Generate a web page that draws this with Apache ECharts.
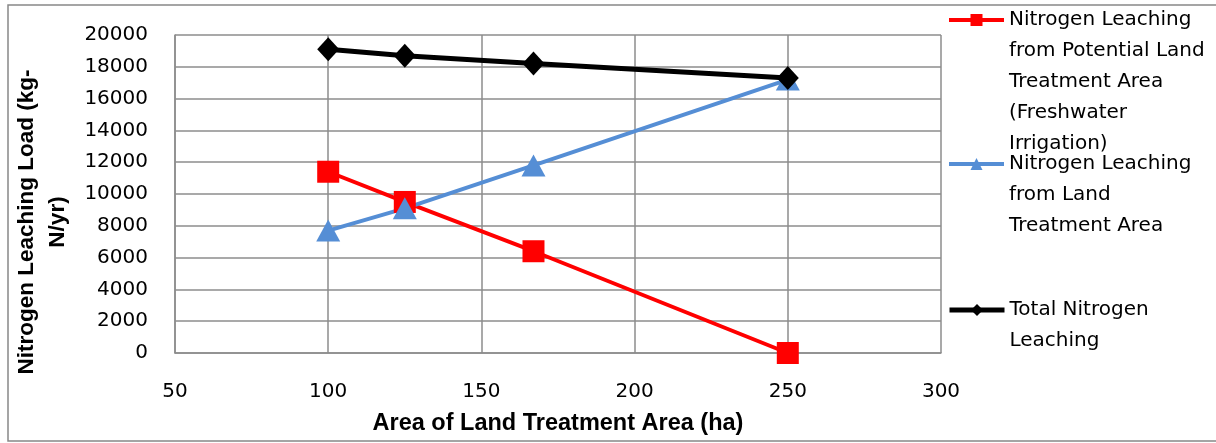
<!DOCTYPE html>
<html>
<head>
<meta charset="utf-8">
<script src="https://cdn.jsdelivr.net/npm/echarts@6/dist/echarts.min.js"></script>
<style>
  html, body { margin: 0; padding: 0; background: #fff; }
  #chart { width: 1216px; height: 443px; }
</style>
</head>
<body>
<div id="chart"></div>
<script>
// 面积 (ha)
const areaHa = [100, 125, 167, 250];
// 各系列数据
const potentialLeaching = [11400, 9500, 6400, 0];
const landLeaching = [7700, 9100, 11800, 17200];
const totalLeaching = [19100, 18700, 18200, 17300];

const seriesNames = [
  "Nitrogen Leaching from Potential Land Treatment Area (Freshwater Irrigation)",
  "Nitrogen Leaching from Land Treatment Area",
  "Total Nitrogen Leaching",
];
// 图例分行
const legendLines = [
  ["Nitrogen Leaching", "from Potential Land", "Treatment Area", "(Freshwater", "Irrigation)"],
  ["Nitrogen Leaching", "from Land", "Treatment Area"],
  ["Total Nitrogen", "Leaching"],
];
const legendFirstLineY = [20, 164, 310];

const xTicks = { min: 50, max: 300, interval: 50 };
const yTicks = { min: 0, max: 20000, interval: 2000 };

const lineH = 31;
const font = "DejaVu Sans";
const gridColor = "#8c8c8c";
const seriesColors = ["#ff0000", "#558ed5", "#000000"];
const seriesWidths = [4, 4, 5];

const toPairs = (vals) => vals.map((v, i) => [areaHa[i], v]);

// 每个图例单独放置，前面补空行让图标对齐第一行
const legends = legendLines.map((lines, i) => {
  const n = lines.length;
  const blank = new Array(n - 1).fill("");
  return {
    data: [seriesNames[i]],
    orient: "vertical",
    left: 947,
    top: legendFirstLineY[i] - (2 * n - 1) * lineH / 2,
    padding: 0,
    itemWidth: 55,
    itemHeight: 15,
    selectedMode: false,
    lineStyle: { width: seriesWidths[i] },
    formatter: () => blank.concat(lines).join("\n"),
    textStyle: {
      fontFamily: font,
      fontSize: 20,
      color: "#000",
      lineHeight: lineH,
    },
  };
});

const option = {
  animation: false,
  backgroundColor: "#fff",
  graphic: [
    {
      type: "rect",
      shape: { x: 8, y: 5, width: 1220, height: 436 },
      style: { fill: "none", stroke: "#888", lineWidth: 1.5 },
      silent: true,
    },
  ],
  legend: legends,
  grid: { left: 175, right: 275, top: 35, bottom: 90 },
  xAxis: {
    type: "value",
    min: xTicks.min,
    max: xTicks.max,
    interval: xTicks.interval,
    name: "Area of Land Treatment Area (ha)",
    nameLocation: "middle",
    nameGap: 59,
    nameTextStyle: {
      fontFamily: "Liberation Sans",
      fontWeight: "bold",
      fontSize: 23.5,
      color: "#000",
    },
    axisLine: { show: true, lineStyle: { color: gridColor, width: 1.5 } },
    axisTick: { show: false },
    axisLabel: { margin: 29, fontFamily: font, fontSize: 20, color: "#000" },
    splitLine: { show: true, lineStyle: { color: gridColor, width: 1.5 } },
  },
  yAxis: {
    type: "value",
    min: yTicks.min,
    max: yTicks.max,
    interval: yTicks.interval,
    name: "Nitrogen Leaching Load (kg-\nN/yr)",
    nameLocation: "middle",
    nameRotate: 90,
    nameGap: 85,
    nameTextStyle: {
      fontFamily: "Liberation Sans",
      fontWeight: "bold",
      fontSize: 22.5,
      color: "#000",
      lineHeight: 31,
      padding: [0, 56, 0, 0],
    },
    axisLine: { show: true, lineStyle: { color: gridColor, width: 1.5 } },
    axisTick: { show: false },
    axisLabel: {
      margin: 27,
      fontFamily: font,
      fontSize: 20,
      color: "#000",
      formatter: (v) => String(v),
    },
    splitLine: { show: true, lineStyle: { color: gridColor, width: 1.5 } },
  },
  series: [
    {
      name: seriesNames[0],
      type: "line",
      data: toPairs(potentialLeaching),
      symbol: "rect",
      symbolSize: 22,
      lineStyle: { color: seriesColors[0], width: seriesWidths[0] },
      itemStyle: { color: seriesColors[0] },
    },
    {
      name: seriesNames[1],
      type: "line",
      data: toPairs(landLeaching),
      symbol: "triangle",
      symbolSize: [24, 22],
      lineStyle: { color: seriesColors[1], width: seriesWidths[1] },
      itemStyle: { color: seriesColors[1] },
    },
    {
      name: seriesNames[2],
      type: "line",
      data: toPairs(totalLeaching),
      symbol: "diamond",
      symbolSize: [22, 24],
      lineStyle: { color: seriesColors[2], width: seriesWidths[2] },
      itemStyle: { color: seriesColors[2] },
    },
  ],
};

const myChart = echarts.init(document.getElementById("chart"));
myChart.setOption(option);
</script>
</body>
</html>
